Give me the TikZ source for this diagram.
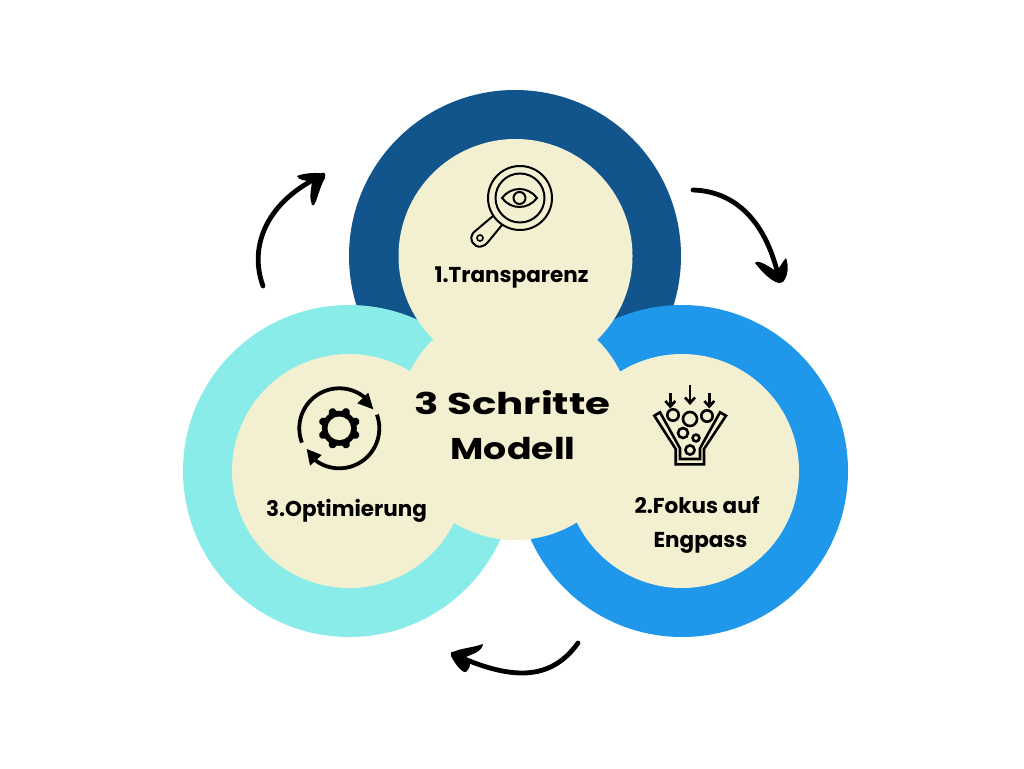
\documentclass[tikz,border=0pt]{standalone}
\usepackage{fontspec}
\setmainfont{Poppins}
\definecolor{cream}{HTML}{F3F0D2}
\definecolor{darkblue}{HTML}{12548C}
\definecolor{brightblue}{HTML}{1F98EC}
\definecolor{aqua}{HTML}{89ECE9}
\tikzset{
  outerring/.style={circle,minimum size=332pt,inner sep=0pt},
  innerdisc/.style={circle,fill=cream,minimum size=234pt,inner sep=0pt},
  steplabel/.style={inner sep=0pt,align=center,font=\fontsize{21.5pt}{34pt}\selectfont\bfseries},
  titlelabel/.style={inner sep=0pt,font=\fontsize{30pt}{34pt}\selectfont\bfseries},
  curvearrow/.style={line width=4.8pt,line cap=round,line join=round},
  icon/.style={line width=2.6pt,line join=miter},
  flowarrow/.style={curvearrow,black}
}
\begin{document}
\begin{tikzpicture}[x=1pt,y=-1pt]
\useasboundingbox (0,0) rectangle (1024,768);
\fill[white] (0,0) rectangle (1024,768);
% rings
\node[outerring,fill=darkblue] (ringtop) at (515,256) {};
\node[outerring,fill=brightblue] (ringright) at (682,471) {};
\node[outerring,fill=aqua] (ringleft) at (349,471) {};
% discs
\node[innerdisc] (disctop) at (515.5,256) {};
\node[innerdisc] (discright) at (682,471) {};
\node[innerdisc] (discleft) at (349,471) {};
\node[innerdisc] (disccentre) at (515,423) {};
% texts
\node[steplabel,anchor=base] (labelone) at (511.5,282) {1.Transparenz};
\node[steplabel,anchor=base] (labelthree) at (346.5,516) {3.Optimierung};
\node[steplabel,anchor=base] (labeltwoa) at (697,513) {2.Fokus auf};
\node[steplabel,anchor=base] (labeltwob) at (700.5,547) {Engpass};
\node[titlelabel,anchor=base] (titlea) at (512.5,414) {\scalebox{1.345}[1]{3 Schritte}};
\node[titlelabel,anchor=base] (titleb) at (513,459) {\scalebox{1.21}[1]{Modell}};
% magnifier icon
\node[circle,draw,line width=2pt,minimum size=64pt,inner sep=0pt] (lensouter) at (520,198) {};
\node[circle,draw,line width=2pt,minimum size=49pt,inner sep=0pt] (lensinner) at (520,198) {};
\draw[line width=2pt] (502,198) .. controls (511,186) and (528,186) .. (537,198) .. controls (528,210) and (511,210) .. (502,198) -- cycle;
\node[circle,draw,line width=2pt,minimum size=12pt,inner sep=0pt] (iris) at (519.5,198) {};
\draw[line width=2pt] (493,216) -- (473.5,232.5) .. controls (468,239) and (474,248) .. (481,246.5) .. controls (484,246.5) and (486,244) .. (488,242) -- (502,225);
\node[circle,draw,line width=1.6pt,minimum size=6pt,inner sep=0pt] (hole) at (480,238) {};
% funnel icon
\begin{scope}[icon]
\draw (654.3,415.7) -- (660,412.3) -- (680,448.3) -- (680,459) -- (700,459) -- (700,448.3) -- (720,412.3) -- (726,415.7) -- (704,449) -- (704,464.3) -- (675.7,464.3) -- (675.7,449) -- cycle;
\foreach \cx/\cy/\r in {673/415/5.7,690/419/7,707/416/5.7,683/433/5,696/438/3.4,690/450/4.6}
  \draw (\cx,\cy) circle[radius=\r];
\foreach \ax/\ay/\by in {670.3/393/406.5,690/384.5/403,709.3/393/406.5}{
  \draw (\ax,\ay) -- (\ax,\by);
  \draw (\ax-5,\by-5.5) -- (\ax,\by) -- (\ax+5,\by-5.5);
}
\end{scope}
% gear icon
\begin{scope}[shift={(339.3,428.3)}]
\fill[black] (0,0) circle[radius=17.5];
\foreach \a in {22.5,67.5,...,337.5}
  \draw[line width=8pt,line cap=round] (\a:15) -- (\a:17.5);
\fill[cream] (0,0) circle[radius=11.8];
\draw[line width=3.8pt,domain=159:312,samples=40,smooth,variable=\t] plot (\t:40);
\draw[line width=3.8pt,domain=-20:128,samples=40,smooth,variable=\t] plot (\t:40);
\end{scope}
\fill (368.3,392.7) -- (373.3,409.3) -- (357.3,403.3) -- cycle;
\fill (306.7,449) -- (321.7,455) -- (310,465.7) -- cycle;
% arrows
\coordinate (arrowAstart) at (693,190);
\coordinate (arrowAtip) at (779,279);
\coordinate (arrowAbarbl) at (755,263);
\coordinate (arrowAbarbr) at (786,258);
\draw[flowarrow] (arrowAstart) .. controls (730,191) and (765,215) .. (arrowAtip);
\fill[black] (779,283) .. controls (772,282) and (762,272) .. (arrowAbarbl) .. controls (758,259) and (768,266) .. (776,271) .. controls (780,268) and (782,262) .. (arrowAbarbr) .. controls (789,266) and (788,276) .. (783,282) -- cycle;
\coordinate (arrowBstart) at (263,286);
\coordinate (arrowBtip) at (323,175);
\coordinate (arrowBbarbl) at (297,176);
\coordinate (arrowBbarbr) at (312,205);
\draw[flowarrow] (arrowBstart) .. controls (248,245) and (268,200) .. (arrowBtip);
\fill[black] (324,174) .. controls (318,172) and (304,173) .. (arrowBbarbl) .. controls (299,181) and (306,180) .. (312,182) .. controls (311,190) and (309,198) .. (arrowBbarbr) .. controls (316,208) and (318,190) .. (325,178) -- cycle;
\coordinate (arrowCstart) at (578,643);
\coordinate (arrowCtip) at (453,654);
\coordinate (arrowCbarbl) at (483,644);
\coordinate (arrowCbarbr) at (466,672);
\draw[flowarrow] (arrowCstart) .. controls (550,682) and (510,680) .. (arrowCtip);
\fill[black] (451,653) .. controls (460,648) and (472,648) .. (arrowCbarbl) .. controls (482,652) and (472,654) .. (466,657) .. controls (470,660) and (473,665) .. (arrowCbarbr) .. controls (462,673) and (455,664) .. (451,656) -- cycle;
\end{tikzpicture}
\end{document}
